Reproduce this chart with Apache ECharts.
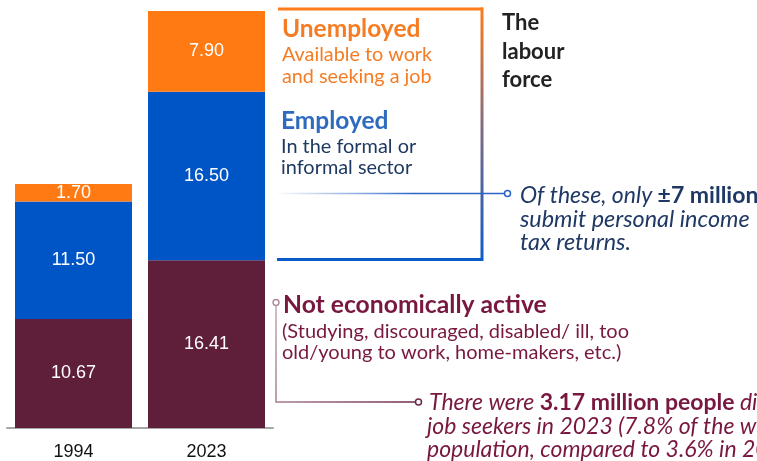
<!DOCTYPE html>
<html>
<head>
<meta charset="utf-8">
<script src="https://cdn.jsdelivr.net/npm/echarts@6/dist/echarts.min.js"></script>
<style>
html,body{margin:0;padding:0;background:#fff;}
#chart{width:757px;height:461px;}
</style>
</head>
<body>
<div id="chart"></div>
<script>
var years = ['1994', '2023'];
var notActive = [10.67, 16.41];
var employed = [11.50, 16.50];
var unemployed = [1.70, 7.90];

var C_MAROON = '#5F1F3A', C_BLUE = '#0055C6', C_ORANGE = '#FF7A12';
var F = 'Lato';

var chart = echarts.init(document.getElementById('chart'), null, {renderer: 'canvas'});

function lbl() {
  return {show: true, position: 'inside', color: '#fff', fontSize: 18, fontFamily: 'Liberation Sans',
    formatter: function (p) { return p.value.toFixed(2); }};
}
function txt(x, y, s, size, color, weight, style) {
  return {type: 'text', x: x, y: y, silent: true, style: {
    text: s, fill: color, fontFamily: F, fontSize: size, fontWeight: weight || 'normal',
    fontStyle: style || 'normal', textAlign: 'left', textVerticalAlign: 'middle'}};
}
function rich(x, y, s, size, color) {
  return {type: 'text', x: x, y: y, silent: true, style: {
    text: s, fontFamily: F, fontSize: size, fill: color, textAlign: 'left', textVerticalAlign: 'middle',
    rich: {
      i: {fontFamily: F, fontSize: size, fontStyle: 'italic', fill: color},
      b: {fontFamily: F, fontSize: size, fontWeight: 'bold', fill: color}
    }}};
}

var graphics = [
  // labour force bracket
  {type: 'line', silent: true, shape: {x1: 278, y1: 9, x2: 483, y2: 9}, style: {stroke: '#FF7C1A', lineWidth: 3}},
  {type: 'line', silent: true, shape: {x1: 482, y1: 7.5, x2: 482, y2: 261}, style: {lineWidth: 3,
    stroke: new echarts.graphic.LinearGradient(0, 0, 0, 1, [{offset: 0, color: '#FF7C1A'}, {offset: 0.5, color: '#7A6A86'}, {offset: 1, color: '#0A5BCC'}])}},
  {type: 'line', silent: true, shape: {x1: 277, y1: 259.5, x2: 483, y2: 259.5}, style: {stroke: '#0A5BCC', lineWidth: 3}},
  // connector employed
  {type: 'line', silent: true, shape: {x1: 243.5, y1: 193.5, x2: 266, y2: 193.5}, style: {stroke: '#fff', lineWidth: 1.5}},
  {type: 'circle', silent: true, shape: {cx: 240.5, cy: 193.5, r: 3}, style: {stroke: '#fff', fill: C_BLUE, lineWidth: 1.5}},
  {type: 'line', silent: true, shape: {x1: 277, y1: 193.5, x2: 504.5, y2: 193.5}, style: {lineWidth: 1.6,
    stroke: new echarts.graphic.LinearGradient(0, 0, 1, 0, [{offset: 0, color: 'rgba(43,99,201,0)'}, {offset: 0.4, color: 'rgba(43,99,201,0.6)'}, {offset: 0.6, color: '#2B63C9'}, {offset: 1, color: '#2B63C9'}])}},
  {type: 'circle', silent: true, shape: {cx: 507.5, cy: 193.5, r: 3}, style: {stroke: '#2B63C9', fill: '#fff', lineWidth: 1.5}},
  // not active connector
  {type: 'circle', silent: true, shape: {cx: 276, cy: 302.5, r: 3}, style: {stroke: '#A88398', fill: '#fff', lineWidth: 1.3}},
  {type: 'polyline', silent: true, shape: {points: [[276, 305.5], [276, 402], [415.5, 402]]}, style: {lineWidth: 1.5, fill: null,
    stroke: new echarts.graphic.LinearGradient(0, 0, 1, 1, [{offset: 0, color: '#C2A8B6'}, {offset: 1, color: '#6E2748'}])}},
  {type: 'circle', silent: true, shape: {cx: 418.5, cy: 402, r: 3}, style: {stroke: '#6E2748', fill: '#fff', lineWidth: 1.5}},

  // texts
  txt(282, 29, 'Unemployed', 24.5, '#F57C22', 'bold'),
  txt(282, 55, 'Available to work', 19.8, '#F57C22'),
  txt(282, 77, 'and seeking a job', 19.8, '#F57C22'),
  txt(281, 121, 'Employed', 24.5, '#2E6BC0', 'bold'),
  txt(281, 147, 'In the formal or', 19.9, '#1F3A60'),
  txt(281, 168, 'informal sector', 19.9, '#1F3A60'),
  txt(502, 23, 'The', 22, '#222', 'bold'),
  txt(502, 52, 'labour', 22, '#222', 'bold'),
  txt(502, 80, 'force', 22, '#222', 'bold'),
  rich(520, 196, '{i|Of these, only }{b|±7 million}', 23, '#1F3864'),
  txt(520, 219, 'submit personal income', 23.4, '#1F3864', 'normal', 'italic'),
  txt(520, 242, 'tax returns.', 23.4, '#1F3864', 'normal', 'italic'),
  txt(283, 305, 'Not economically active', 24.7, '#78173F', 'bold'),
  txt(282, 332, '(Studying, discouraged, disabled/ ill, too', 20, '#78173F'),
  txt(282, 353, 'old/young to work, home-makers, etc.)', 20, '#78173F'),
  rich(429, 403, '{i|There were }{b|3.17 million people}{i| discouraged}', 23, '#78173F'),
  txt(427, 427, 'job seekers in 2023 (7.8% of the working-age', 23, '#78173F', 'normal', 'italic'),
  txt(427, 450, 'population, compared to 3.6% in 2008)', 23, '#78173F', 'normal', 'italic')
];

chart.setOption({
  animation: false,
  backgroundColor: '#fff',
  grid: {left: 7, top: 9, width: 266, bottom: 32.5, containLabel: false},
  xAxis: {type: 'category', data: years,
    axisLine: {lineStyle: {color: '#A6A6A6', width: 2}}, axisTick: {show: false},
    axisLabel: {color: '#111', fontSize: 18, fontFamily: 'Liberation Sans', margin: 15}},
  yAxis: {type: 'value', min: 0, max: 41, show: false, splitLine: {show: false}},
  series: [
    {name: 'Not economically active', type: 'bar', stack: 'a', barWidth: 117, data: notActive,
      itemStyle: {color: C_MAROON}, label: lbl()},
    {name: 'Employed', type: 'bar', stack: 'a', barWidth: 117, data: employed,
      itemStyle: {color: C_BLUE}, label: lbl()},
    {name: 'Unemployed', type: 'bar', stack: 'a', barWidth: 117, data: unemployed,
      itemStyle: {color: C_ORANGE}, label: lbl()}
  ],
  graphic: graphics
});
</script>
</body>
</html>
